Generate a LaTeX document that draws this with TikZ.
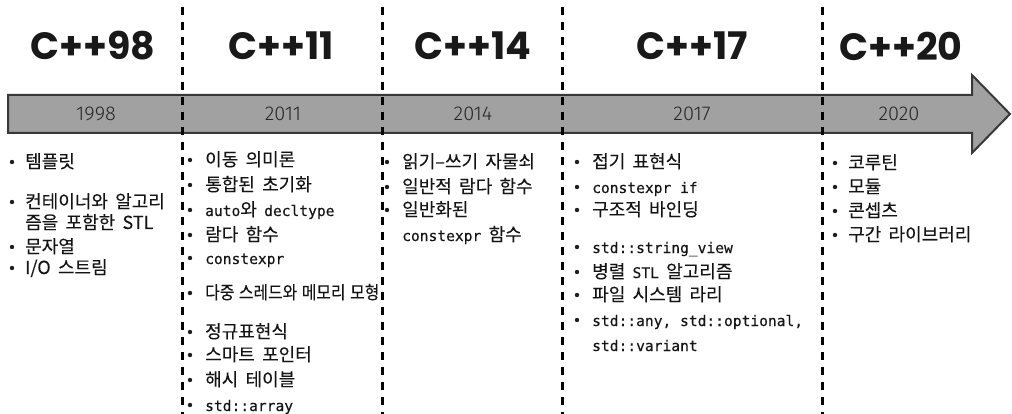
\documentclass[tikz,border=0pt]{standalone}
\usepackage{fontspec}
\newfontfamily\kr{Noto Sans CJK KR}[FakeBold=0.15,WordSpace=1.8]
\newfontfamily\krn{Noto Sans CJK KR}[FakeStretch=0.88,FakeBold=0.15,WordSpace=1.3]
\newfontfamily\monof{DejaVu Sans Mono}[FakeBold=0.25]
\newfontfamily\headf{Poppins}
\newfontfamily\yearf{Fira Sans Light}
\newcommand\M[1]{{\monof\fontsize{14.6}{18}\selectfont #1}}
\begin{document}
\begin{tikzpicture}[x=1pt,y=-1pt,
  txt/.style={anchor=base west,inner sep=0pt,font=\kr\fontsize{18}{20}\selectfont,text=black!92},
  txtn/.style={txt,font=\krn\fontsize{18}{20}\selectfont},
  bul/.style={circle,fill=black!88,inner sep=0pt,minimum size=4.4pt},
  head/.style={inner sep=0pt,font=\headf\bfseries\fontsize{38}{40}\selectfont,text=black!90},
  year/.style={inner sep=0pt,font=\yearf\fontsize{20}{22}\selectfont,text=black!85},
  sep/.style={line width=3pt,dash pattern=on 8pt off 7pt,black},
  bar/.style={fill=black!37,draw=black!78,line width=2pt,line join=miter}]
\useasboundingbox (0,0) rectangle (1012,414);
% timeline arrow
\draw[bar] (8,95) -- (972,95) -- (972,75) -- (1010,114) -- (972,153) -- (972,133) -- (8,133) -- cycle;
% separators
\foreach \x in {182,382,562,822} \draw[sep] (\x,7) -- (\x,414);
% headings
\node[head] (h98) at (93,46) {C++98};
\node[head] (h11) at (281,46) {C++11};
\node[head] (h14) at (473,46) {C++14};
\node[head] (h17) at (692,46) {C++17};
\node[head] (h20) at (901,46) {C++20};
% years
\node[year] (y98) at (96,114) {1998};
\node[year] (y11) at (283,114) {2011};
\node[year] (y14) at (473,114) {2014};
\node[year] (y17) at (692,114) {2017};
\node[year] (y20) at (899,114) {2020};
% C++98
\node[bul] (a1b) at (12,162) {};
\node[txt] (a1) at (25,168) {템플릿};
\node[bul] (a2b) at (12,202) {};
\node[txt] (a2) at (25,208) {컨테이너와 알고리};
\node[txt] (a2c) at (25,229) {즘을 포함한 STL};
\node[bul] (a3b) at (12,247) {};
\node[txt] (a3) at (25,253) {문자열};
\node[bul] (a4b) at (12,268) {};
\node[txt] (a4) at (25,274) {I/O 스트림};
% C++11
\node[bul] (b1b) at (190,160) {};
\node[txt] (b1) at (205,166) {이동 의미론};
\node[bul] (b2b) at (190,185) {};
\node[txt] (b2) at (205,191) {통합된 초기화};
\node[bul] (b3b) at (190,210) {};
\node[txt] (b3) at (205,216) {\M{auto}와 \M{decltype}};
\node[bul] (b4b) at (190,235) {};
\node[txt] (b4) at (205,241) {람다 함수};
\node[bul] (b5b) at (190,258) {};
\node[txt] (b5) at (205,264) {\M{constexpr}};
\node[bul] (b6b) at (190,293) {};
\node[txtn] (b6) at (205,299) {다중 스레드와 메모리 모형};
\node[bul] (b7b) at (190,332) {};
\node[txt] (b7) at (205,338) {정규표현식};
\node[bul] (b8b) at (190,355) {};
\node[txt] (b8) at (205,361) {스마트 포인터};
\node[bul] (b9b) at (190,380) {};
\node[txt] (b9) at (205,386) {해시 테이블};
\node[bul] (b10b) at (190,405) {};
\node[txt] (b10) at (205,411) {\M{std::array}};
% C++14
\node[bul] (c1b) at (387,162) {};
\node[txt] (c1) at (402,168) {읽기–쓰기 자물쇠};
\node[bul] (c2b) at (387,187) {};
\node[txt] (c2) at (402,193) {일반적 람다 함수};
\node[bul] (c3b) at (387,210) {};
\node[txt] (c3) at (402,216) {일반화된};
\node[txt] (c3c) at (402,241) {\M{constexpr} 함수};
% C++17
\node[bul] (d1b) at (577,162) {};
\node[txt] (d1) at (592,168) {접기 표현식};
\node[bul] (d2b) at (577,187) {};
\node[txt] (d2) at (592,193) {\M{constexpr if}};
\node[bul] (d3b) at (577,210) {};
\node[txt] (d3) at (592,216) {구조적 바인딩};
\node[bul] (d4b) at (577,247) {};
\node[txt] (d4) at (592,253) {\M{std::string\_view}};
\node[bul] (d5b) at (577,272) {};
\node[txt] (d5) at (592,278) {병렬 \M{STL} 알고리즘};
\node[bul] (d6b) at (577,295) {};
\node[txt] (d6) at (592,301) {파일 시스템 라리};
\node[bul] (d7b) at (577,320) {};
\node[txt] (d7) at (592,326) {\M{std::any, std::optional,}};
\node[txt] (d7c) at (592,351) {\M{std::variant}};
% C++20
\node[bul] (e1b) at (835,163) {};
\node[txt] (e1) at (848,169) {코루틴};
\node[bul] (e2b) at (835,187) {};
\node[txt] (e2) at (848,193) {모듈};
\node[bul] (e3b) at (835,211) {};
\node[txt] (e3) at (848,217) {콘셉츠};
\node[bul] (e4b) at (835,235) {};
\node[txt] (e4) at (848,241) {구간 라이브러리};
\end{tikzpicture}
\end{document}
